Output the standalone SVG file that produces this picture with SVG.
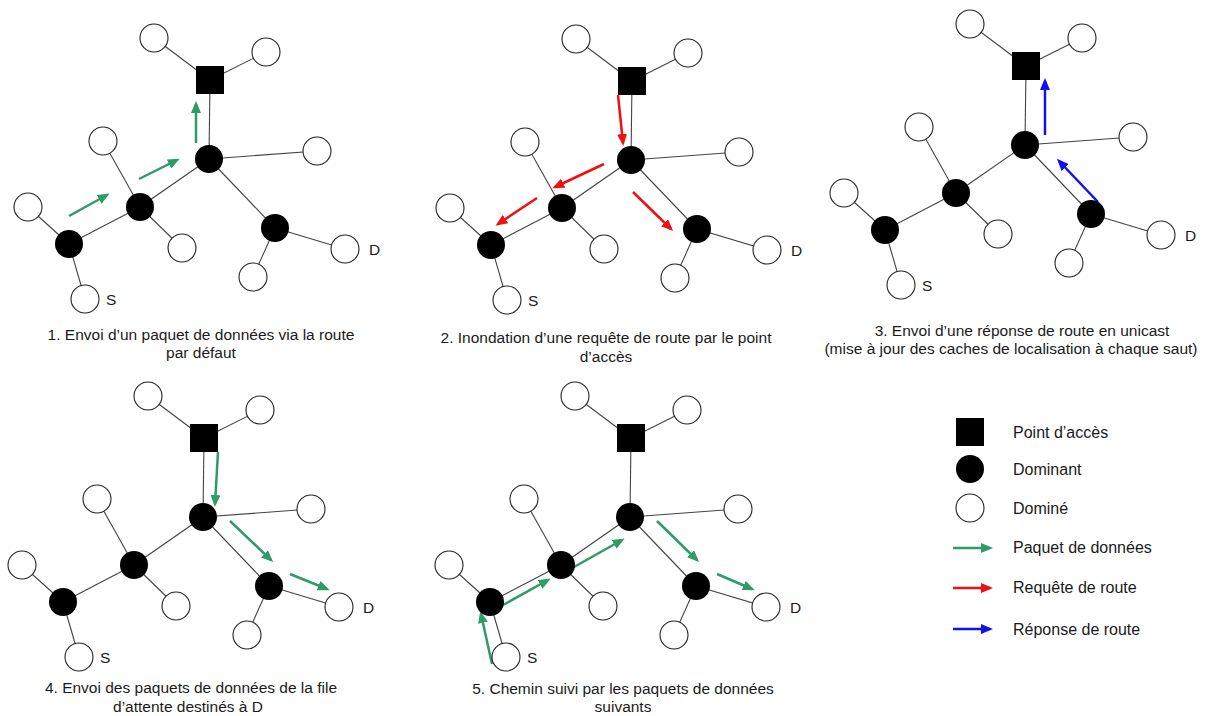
<svg xmlns="http://www.w3.org/2000/svg" width="1210" height="716" viewBox="0 0 1210 716">
<style>
  .edge{stroke:#444;stroke-width:1.1;fill:none}
  .dom{fill:#000}
  .domine{fill:#fff;stroke:#222;stroke-width:1.1}
  .ap{fill:#000}
  .txt{font-family:"Liberation Sans",Arial,sans-serif;font-size:15.5px;fill:#1a1a1a}
  .cap{text-anchor:middle}
  .leg{font-size:16px}
  .g{stroke:#2f9b69;stroke-width:2.5;fill:none;marker-end:url(#ag)}
  .r{stroke:#f01010;stroke-width:2.5;fill:none;marker-end:url(#ar)}
  .b{stroke:#1010f0;stroke-width:2.5;fill:none;marker-end:url(#ab)}
</style>
<defs>
  <marker id="ag" markerUnits="userSpaceOnUse" markerWidth="12" markerHeight="10" viewBox="0 0 12 10" refX="9" refY="5" orient="auto"><path d="M0,0 L12,5 L0,10 z" fill="#2f9b69"/></marker>
  <marker id="ar" markerUnits="userSpaceOnUse" markerWidth="12" markerHeight="10" viewBox="0 0 12 10" refX="9" refY="5" orient="auto"><path d="M0,0 L12,5 L0,10 z" fill="#f01010"/></marker>
  <marker id="ab" markerUnits="userSpaceOnUse" markerWidth="12" markerHeight="10" viewBox="0 0 12 10" refX="9" refY="5" orient="auto"><path d="M0,0 L12,5 L0,10 z" fill="#1010f0"/></marker>
</defs>
<rect width="1210" height="716" fill="#fff"/>

<g id="connectors">
  <g id="p1-edges" transform="translate(0,0)">
    <line class="edge" x1="210" y1="80" x2="154" y2="38"/><line class="edge" x1="210" y1="80" x2="266" y2="52"/><line class="edge" x1="210" y1="80" x2="209" y2="159"/><line class="edge" x1="209" y1="159" x2="317" y2="151"/><line class="edge" x1="209" y1="159" x2="140" y2="207"/><line class="edge" x1="209" y1="159" x2="275" y2="228"/><line class="edge" x1="140" y1="207" x2="103" y2="141"/><line class="edge" x1="140" y1="207" x2="182" y2="248"/><line class="edge" x1="140" y1="207" x2="69" y2="244"/><line class="edge" x1="69" y1="244" x2="28" y2="207"/><line class="edge" x1="69" y1="244" x2="85" y2="299"/><line class="edge" x1="275" y1="228" x2="345" y2="249"/><line class="edge" x1="275" y1="228" x2="253" y2="277"/>
    <line class="g" x1="69" y1="216" x2="107" y2="195"/><line class="g" x1="139" y1="179" x2="177" y2="160"/><line class="g" x1="196" y1="143" x2="196" y2="104"/>
  </g>
  <g id="p2-edges" transform="translate(422,1)">
    <line class="edge" x1="210" y1="80" x2="154" y2="38"/><line class="edge" x1="210" y1="80" x2="266" y2="52"/><line class="edge" x1="210" y1="80" x2="209" y2="159"/><line class="edge" x1="209" y1="159" x2="317" y2="151"/><line class="edge" x1="209" y1="159" x2="140" y2="207"/><line class="edge" x1="209" y1="159" x2="275" y2="228"/><line class="edge" x1="140" y1="207" x2="103" y2="141"/><line class="edge" x1="140" y1="207" x2="182" y2="248"/><line class="edge" x1="140" y1="207" x2="69" y2="244"/><line class="edge" x1="69" y1="244" x2="28" y2="207"/><line class="edge" x1="69" y1="244" x2="85" y2="299"/><line class="edge" x1="275" y1="228" x2="345" y2="249"/><line class="edge" x1="275" y1="228" x2="253" y2="277"/>
    <line class="r" x1="196" y1="94" x2="201" y2="142"/><line class="r" x1="182" y1="163" x2="133" y2="186"/><line class="r" x1="115" y1="197" x2="76" y2="223"/><line class="r" x1="211" y1="191" x2="249" y2="228"/>
  </g>
  <g id="p3-edges" transform="translate(816,-14)">
    <line class="edge" x1="210" y1="80" x2="154" y2="38"/><line class="edge" x1="210" y1="80" x2="266" y2="52"/><line class="edge" x1="210" y1="80" x2="209" y2="159"/><line class="edge" x1="209" y1="159" x2="317" y2="151"/><line class="edge" x1="209" y1="159" x2="140" y2="207"/><line class="edge" x1="209" y1="159" x2="275" y2="228"/><line class="edge" x1="140" y1="207" x2="103" y2="141"/><line class="edge" x1="140" y1="207" x2="182" y2="248"/><line class="edge" x1="140" y1="207" x2="69" y2="244"/><line class="edge" x1="69" y1="244" x2="28" y2="207"/><line class="edge" x1="69" y1="244" x2="85" y2="299"/><line class="edge" x1="275" y1="228" x2="345" y2="249"/><line class="edge" x1="275" y1="228" x2="253" y2="277"/>
    <line class="b" x1="229" y1="149" x2="229" y2="95"/><line class="b" x1="282" y1="216" x2="243" y2="175"/>
  </g>
  <g id="p4-edges" transform="translate(-6,358)">
    <line class="edge" x1="210" y1="80" x2="154" y2="38"/><line class="edge" x1="210" y1="80" x2="266" y2="52"/><line class="edge" x1="210" y1="80" x2="209" y2="159"/><line class="edge" x1="209" y1="159" x2="317" y2="151"/><line class="edge" x1="209" y1="159" x2="140" y2="207"/><line class="edge" x1="209" y1="159" x2="275" y2="228"/><line class="edge" x1="140" y1="207" x2="103" y2="141"/><line class="edge" x1="140" y1="207" x2="182" y2="248"/><line class="edge" x1="140" y1="207" x2="69" y2="244"/><line class="edge" x1="69" y1="244" x2="28" y2="207"/><line class="edge" x1="69" y1="244" x2="85" y2="299"/><line class="edge" x1="275" y1="228" x2="345" y2="249"/><line class="edge" x1="275" y1="228" x2="253" y2="277"/>
    <line class="g" x1="224" y1="94" x2="221" y2="146"/><line class="g" x1="236" y1="163" x2="277" y2="202"/><line class="g" x1="296" y1="216" x2="333" y2="231"/>
  </g>
  <g id="p5-edges" transform="translate(421,358)">
    <line class="edge" x1="210" y1="80" x2="154" y2="38"/><line class="edge" x1="210" y1="80" x2="266" y2="52"/><line class="edge" x1="210" y1="80" x2="209" y2="159"/><line class="edge" x1="209" y1="159" x2="317" y2="151"/><line class="edge" x1="209" y1="159" x2="140" y2="207"/><line class="edge" x1="209" y1="159" x2="275" y2="228"/><line class="edge" x1="140" y1="207" x2="103" y2="141"/><line class="edge" x1="140" y1="207" x2="182" y2="248"/><line class="edge" x1="140" y1="207" x2="69" y2="244"/><line class="edge" x1="69" y1="244" x2="28" y2="207"/><line class="edge" x1="69" y1="244" x2="85" y2="299"/><line class="edge" x1="275" y1="228" x2="345" y2="249"/><line class="edge" x1="275" y1="228" x2="253" y2="277"/>
    <line class="g" x1="71" y1="306" x2="60" y2="256"/><line class="g" x1="82" y1="247" x2="127" y2="222"/><line class="g" x1="153" y1="209" x2="201" y2="182"/><line class="g" x1="236" y1="163" x2="276" y2="202"/><line class="g" x1="296" y1="216" x2="331" y2="231"/>
  </g>
</g>

<g id="nodes" class="txt">
  <g id="panel1" transform="translate(0,0)">
    <g id="p1-ap"><rect class="ap" x="196" y="66" width="28" height="28"/></g>
    <g id="p1-w1"><circle class="domine" cx="154" cy="38" r="14"/></g>
    <g id="p1-w2"><circle class="domine" cx="266" cy="52" r="14"/></g>
    <g id="p1-hub"><circle class="dom" cx="209" cy="159" r="14"/></g>
    <g id="p1-w3"><circle class="domine" cx="317" cy="151" r="14"/></g>
    <g id="p1-mid"><circle class="dom" cx="140" cy="207" r="14"/></g>
    <g id="p1-w4"><circle class="domine" cx="103" cy="141" r="14"/></g>
    <g id="p1-w5"><circle class="domine" cx="182" cy="248" r="14"/></g>
    <g id="p1-left"><circle class="dom" cx="69" cy="244" r="14"/></g>
    <g id="p1-w6"><circle class="domine" cx="28" cy="207" r="14"/></g>
    <g id="p1-s"><circle class="domine" cx="85" cy="299" r="14"/><text x="106" y="305">S</text></g>
    <g id="p1-right"><circle class="dom" cx="275" cy="228" r="14"/></g>
    <g id="p1-d"><circle class="domine" cx="345" cy="249" r="14"/><text x="369" y="255">D</text></g>
    <g id="p1-w7"><circle class="domine" cx="253" cy="277" r="14"/></g>
  </g>
  <g id="panel2" transform="translate(422,1)">
    <g id="p2-ap"><rect class="ap" x="196" y="66" width="28" height="28"/></g>
    <g id="p2-w1"><circle class="domine" cx="154" cy="38" r="14"/></g>
    <g id="p2-w2"><circle class="domine" cx="266" cy="52" r="14"/></g>
    <g id="p2-hub"><circle class="dom" cx="209" cy="159" r="14"/></g>
    <g id="p2-w3"><circle class="domine" cx="317" cy="151" r="14"/></g>
    <g id="p2-mid"><circle class="dom" cx="140" cy="207" r="14"/></g>
    <g id="p2-w4"><circle class="domine" cx="103" cy="141" r="14"/></g>
    <g id="p2-w5"><circle class="domine" cx="182" cy="248" r="14"/></g>
    <g id="p2-left"><circle class="dom" cx="69" cy="244" r="14"/></g>
    <g id="p2-w6"><circle class="domine" cx="28" cy="207" r="14"/></g>
    <g id="p2-s"><circle class="domine" cx="85" cy="299" r="14"/><text x="106" y="305">S</text></g>
    <g id="p2-right"><circle class="dom" cx="275" cy="228" r="14"/></g>
    <g id="p2-d"><circle class="domine" cx="345" cy="249" r="14"/><text x="369" y="255">D</text></g>
    <g id="p2-w7"><circle class="domine" cx="253" cy="277" r="14"/></g>
  </g>
  <g id="panel3" transform="translate(816,-14)">
    <g id="p3-ap"><rect class="ap" x="196" y="66" width="28" height="28"/></g>
    <g id="p3-w1"><circle class="domine" cx="154" cy="38" r="14"/></g>
    <g id="p3-w2"><circle class="domine" cx="266" cy="52" r="14"/></g>
    <g id="p3-hub"><circle class="dom" cx="209" cy="159" r="14"/></g>
    <g id="p3-w3"><circle class="domine" cx="317" cy="151" r="14"/></g>
    <g id="p3-mid"><circle class="dom" cx="140" cy="207" r="14"/></g>
    <g id="p3-w4"><circle class="domine" cx="103" cy="141" r="14"/></g>
    <g id="p3-w5"><circle class="domine" cx="182" cy="248" r="14"/></g>
    <g id="p3-left"><circle class="dom" cx="69" cy="244" r="14"/></g>
    <g id="p3-w6"><circle class="domine" cx="28" cy="207" r="14"/></g>
    <g id="p3-s"><circle class="domine" cx="85" cy="299" r="14"/><text x="106" y="305">S</text></g>
    <g id="p3-right"><circle class="dom" cx="275" cy="228" r="14"/></g>
    <g id="p3-d"><circle class="domine" cx="345" cy="249" r="14"/><text x="369" y="255">D</text></g>
    <g id="p3-w7"><circle class="domine" cx="253" cy="277" r="14"/></g>
  </g>
  <g id="panel4" transform="translate(-6,358)">
    <g id="p4-ap"><rect class="ap" x="196" y="66" width="28" height="28"/></g>
    <g id="p4-w1"><circle class="domine" cx="154" cy="38" r="14"/></g>
    <g id="p4-w2"><circle class="domine" cx="266" cy="52" r="14"/></g>
    <g id="p4-hub"><circle class="dom" cx="209" cy="159" r="14"/></g>
    <g id="p4-w3"><circle class="domine" cx="317" cy="151" r="14"/></g>
    <g id="p4-mid"><circle class="dom" cx="140" cy="207" r="14"/></g>
    <g id="p4-w4"><circle class="domine" cx="103" cy="141" r="14"/></g>
    <g id="p4-w5"><circle class="domine" cx="182" cy="248" r="14"/></g>
    <g id="p4-left"><circle class="dom" cx="69" cy="244" r="14"/></g>
    <g id="p4-w6"><circle class="domine" cx="28" cy="207" r="14"/></g>
    <g id="p4-s"><circle class="domine" cx="85" cy="299" r="14"/><text x="106" y="305">S</text></g>
    <g id="p4-right"><circle class="dom" cx="275" cy="228" r="14"/></g>
    <g id="p4-d"><circle class="domine" cx="345" cy="249" r="14"/><text x="369" y="255">D</text></g>
    <g id="p4-w7"><circle class="domine" cx="253" cy="277" r="14"/></g>
  </g>
  <g id="panel5" transform="translate(421,358)">
    <g id="p5-ap"><rect class="ap" x="196" y="66" width="28" height="28"/></g>
    <g id="p5-w1"><circle class="domine" cx="154" cy="38" r="14"/></g>
    <g id="p5-w2"><circle class="domine" cx="266" cy="52" r="14"/></g>
    <g id="p5-hub"><circle class="dom" cx="209" cy="159" r="14"/></g>
    <g id="p5-w3"><circle class="domine" cx="317" cy="151" r="14"/></g>
    <g id="p5-mid"><circle class="dom" cx="140" cy="207" r="14"/></g>
    <g id="p5-w4"><circle class="domine" cx="103" cy="141" r="14"/></g>
    <g id="p5-w5"><circle class="domine" cx="182" cy="248" r="14"/></g>
    <g id="p5-left"><circle class="dom" cx="69" cy="244" r="14"/></g>
    <g id="p5-w6"><circle class="domine" cx="28" cy="207" r="14"/></g>
    <g id="p5-s"><circle class="domine" cx="85" cy="299" r="14"/><text x="106" y="305">S</text></g>
    <g id="p5-right"><circle class="dom" cx="275" cy="228" r="14"/></g>
    <g id="p5-d"><circle class="domine" cx="345" cy="249" r="14"/><text x="369" y="255">D</text></g>
    <g id="p5-w7"><circle class="domine" cx="253" cy="277" r="14"/></g>
  </g>
</g>

<g id="captions" class="txt cap">
  <text x="201" y="340">1. Envoi d’un paquet de données via la route</text>
  <text x="201" y="358">par défaut</text>
  <text x="606" y="343">2. Inondation d’une requête de route par le point</text>
  <text x="606" y="362">d’accès</text>
  <text x="1022" y="336">3. Envoi d’une réponse de route en unicast</text>
  <text x="1011" y="354">(mise à jour des caches de localisation à chaque saut)</text>
  <text x="191" y="693">4. Envoi des paquets de données de la file</text>
  <text x="188" y="712">d’attente destinés à D</text>
  <text x="623" y="694">5. Chemin suivi par les paquets de données</text>
  <text x="623" y="712">suivants</text>
</g>

<g id="legend" class="txt leg">
  <g id="leg-ap"><rect class="ap" x="956" y="418" width="28" height="28"/><text x="1013" y="437.5">Point d’accès</text></g>
  <g id="leg-dom"><circle class="dom" cx="970" cy="469" r="14"/><text x="1013" y="474.5">Dominant</text></g>
  <g id="leg-domine"><circle class="domine" cx="970" cy="508" r="14"/><text x="1013" y="513.5">Dominé</text></g>
  <g id="leg-data"><line class="g" x1="953" y1="548" x2="990" y2="548"/><text x="1013" y="553">Paquet de données</text></g>
  <g id="leg-req"><line class="r" x1="953" y1="588" x2="990" y2="588"/><text x="1013" y="593">Requête de route</text></g>
  <g id="leg-rep"><line class="b" x1="953" y1="629" x2="990" y2="629"/><text x="1013" y="634.5">Réponse de route</text></g>
</g>
</svg>
